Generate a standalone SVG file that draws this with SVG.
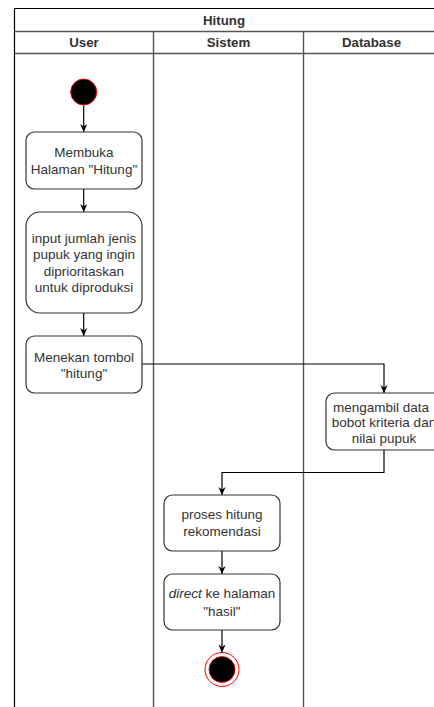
<svg xmlns="http://www.w3.org/2000/svg" width="434" height="707" viewBox="0 0 434 707">
<defs>
<marker id="arr" viewBox="0 0 10 10" refX="10" refY="5" markerWidth="8" markerHeight="9" markerUnits="userSpaceOnUse" orient="auto">
<path d="M0,0.5 L10,5 L0,9.5 L3,5 z" fill="#000"/>
</marker>
</defs>
<style>
.hdr{font-family:"Liberation Sans",Arial,sans-serif;font-size:13.3px;font-weight:bold;fill:#333;text-anchor:middle}
.txt{font-family:"Liberation Sans",Arial,sans-serif;font-size:13.5px;fill:#333;text-anchor:middle}
.box{fill:#fff;stroke:#333;stroke-width:1.2}
.lane{stroke:#555;stroke-width:1.4;fill:none}
.frame{stroke:#000;stroke-width:1.2;fill:none}
.conn{stroke:#000;stroke-width:1.2;fill:none}
</style>
<rect width="434" height="707" fill="#fff"/>
<g id="pool">
<line class="frame" x1="14.5" y1="8.5" x2="434" y2="8.5"/>
<line class="frame" x1="14.5" y1="8.5" x2="14.5" y2="707"/>
<line class="lane" x1="14.5" y1="31.5" x2="434" y2="31.5"/>
<line class="lane" x1="14.5" y1="53.5" x2="434" y2="53.5"/>
<line class="lane" x1="153.5" y1="31.5" x2="153.5" y2="707"/>
<line class="lane" x1="303.5" y1="31.5" x2="303.5" y2="707"/>
<text class="hdr" x="224" y="24.5">Hitung</text>
<text class="hdr" x="84" y="47">User</text>
<text class="hdr" x="228.5" y="47">Sistem</text>
<text class="hdr" x="371.5" y="47">Database</text>
</g>
<g id="connectors">
<line class="conn" x1="83.7" y1="105.5" x2="83.7" y2="132" marker-end="url(#arr)"/>
<line class="conn" x1="83.7" y1="189" x2="83.7" y2="212" marker-end="url(#arr)"/>
<line class="conn" x1="83.7" y1="313" x2="83.7" y2="336" marker-end="url(#arr)"/>
<polyline class="conn" points="142,364 384,364 384,393" marker-end="url(#arr)"/>
<polyline class="conn" points="384,450 384,472.5 222,472.5 222,495" marker-end="url(#arr)"/>
<line class="conn" x1="222" y1="551" x2="222" y2="574" marker-end="url(#arr)"/>
<line class="conn" x1="222" y1="630" x2="222" y2="652.5" marker-end="url(#arr)"/>
</g>
<g id="start">
<circle cx="83.7" cy="92" r="13" fill="#000" stroke="#f00" stroke-width="1"/>
</g>
<g id="membuka">
<rect class="box" x="26" y="132" width="116" height="57" rx="8.5"/>
<text class="txt" x="84" y="157">Membuka</text>
<text class="txt" x="84" y="174">Halaman "Hitung"</text>
</g>
<g id="input">
<rect class="box" x="26" y="212" width="116" height="101" rx="14"/>
<text class="txt" x="84" y="243">input jumlah jenis</text>
<text class="txt" x="84" y="259.3">pupuk yang ingin</text>
<text class="txt" x="84" y="275.5">diprioritaskan</text>
<text class="txt" x="84" y="291.7">untuk diproduksi</text>
</g>
<g id="menekan">
<rect class="box" x="26" y="336" width="116" height="57" rx="8.5"/>
<text class="txt" x="84" y="361.5">Menekan tombol</text>
<text class="txt" x="84" y="378">"hitung"</text>
</g>
<g id="mengambil">
<rect class="box" x="326" y="393" width="116" height="57" rx="8.5"/>
<text class="txt" x="381" y="411.5">mengambil data</text>
<text class="txt" x="384" y="427">bobot kriteria dan</text>
<text class="txt" x="384" y="442.5">nilai pupuk</text>
</g>
<g id="proses">
<rect class="box" x="164" y="495" width="116" height="56" rx="8.5"/>
<text class="txt" x="222" y="519">proses hitung</text>
<text class="txt" x="222" y="535.7">rekomendasi</text>
</g>
<g id="direct">
<rect class="box" x="164" y="574" width="116" height="56" rx="8.5"/>
<text class="txt" x="222" y="598"><tspan font-style="italic">direct</tspan> ke halaman</text>
<text class="txt" x="222" y="615.5">"hasil"</text>
</g>
<g id="end">
<circle cx="222" cy="669.5" r="17" fill="#fff" stroke="#f00" stroke-width="1"/>
<circle cx="222" cy="669.5" r="13" fill="#000" stroke="#f00" stroke-width="0.8"/>
</g>
</svg>
